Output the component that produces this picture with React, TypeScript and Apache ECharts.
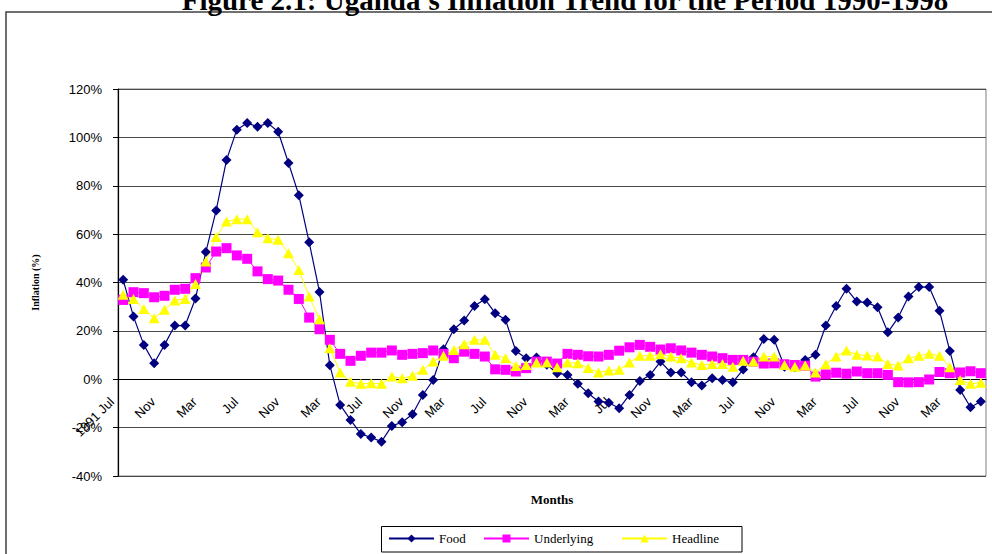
import React, { useEffect, useRef } from "react";
import * as echarts from "echarts";

const categories = [
  "1991 Jul", "Aug", "Sep", "Oct", "Nov", "Dec",
  "Jan", "Feb", "Mar", "Apr", "May", "Jun", "Jul", "Aug", "Sep", "Oct", "Nov", "Dec",
  "Jan", "Feb", "Mar", "Apr", "May", "Jun", "Jul", "Aug", "Sep", "Oct", "Nov", "Dec",
  "Jan", "Feb", "Mar", "Apr", "May", "Jun", "Jul", "Aug", "Sep", "Oct", "Nov", "Dec",
  "Jan", "Feb", "Mar", "Apr", "May", "Jun", "Jul", "Aug", "Sep", "Oct", "Nov", "Dec",
  "Jan", "Feb", "Mar", "Apr", "May", "Jun", "Jul", "Aug", "Sep", "Oct", "Nov", "Dec",
  "Jan", "Feb", "Mar", "Apr", "May", "Jun", "Jul", "Aug", "Sep", "Oct", "Nov", "Dec",
  "Jan", "Feb", "Mar", "Apr", "May", "Jun",
];

const food = [
  41.1, 25.9, 14.2, 6.6, 14.2, 22.2, 22.2, 33.4, 52.6, 69.8,
  90.6, 103.2, 105.9, 104.4, 105.9, 102.3, 89.4, 76.1, 56.6, 36.1,
  5.8, -10.6, -16.8, -22.6, -24.1, -25.8, -19.3, -17.8, -14.5, -6.5,
  -0.3, 12.4, 20.7, 24.3, 30.3, 33.1, 27.3, 24.6, 11.7, 8.7,
  9.0, 6.0, 2.5, 1.8, -1.9, -5.8, -9.2, -9.7, -12.0, -6.5,
  -0.7, 1.8, 7.3, 2.8, 2.8, -1.2, -2.6, 0.4, -0.3, -1.2,
  4.0, 9.1, 16.6, 16.3, 5.2, 5.0, 8.0, 10.1, 22.2, 30.3,
  37.4, 32.1, 31.7, 29.8, 19.4, 25.5, 34.2, 38.1, 38.1, 28.3,
  11.7, -4.4, -11.6, -9.2,
];

const underlying = [
  32.8, 36.0, 35.6, 33.9, 34.5, 37.0, 37.4, 41.8, 46.2, 52.8,
  54.2, 51.2, 49.8, 44.6, 41.4, 40.8, 37.0, 33.2, 25.5, 20.7,
  16.3, 10.5, 7.6, 9.7, 11.0, 11.0, 11.9, 10.1, 10.5, 10.8,
  11.9, 10.5, 8.7, 11.4, 10.5, 9.4, 4.1, 3.9, 3.2, 4.6,
  7.3, 7.3, 6.5, 10.5, 10.1, 9.5, 9.4, 10.1, 11.8, 13.2,
  14.2, 13.4, 12.3, 12.8, 11.9, 11.0, 10.1, 9.4, 8.7, 8.0,
  8.0, 7.3, 6.5, 6.6, 6.2, 5.9, 5.6, 1.1, 2.0, 2.7,
  2.3, 3.2, 2.5, 2.5, 1.8, -1.2, -1.3, -1.2, -0.1, 3.0,
  2.5, 2.8, 3.3, 2.5,
];

const headline = [
  34.9, 33.2, 29.0, 25.2, 28.7, 32.6, 33.2, 39.4, 48.7, 58.8,
  65.2, 66.2, 66.2, 60.8, 58.3, 57.7, 52.1, 45.2, 34.2, 24.8,
  12.8, 2.8, -1.0, -1.9, -1.7, -1.9, 1.1, 0.4, 1.4, 3.9,
  7.3, 9.7, 12.1, 14.5, 16.3, 16.3, 10.1, 8.7, 5.5, 5.9,
  6.9, 6.9, 5.0, 6.9, 6.6, 4.6, 2.8, 3.6, 3.9, 6.9,
  9.7, 9.7, 10.3, 9.4, 8.7, 6.9, 5.9, 6.3, 6.3, 5.2,
  7.7, 7.3, 9.4, 9.4, 5.9, 5.2, 5.7, 2.8, 6.2, 9.4,
  11.9, 10.1, 9.8, 9.4, 6.3, 5.7, 8.7, 9.7, 10.5, 9.7,
  5.0, -0.3, -1.9, -1.4,
];

const seriesNames = ["Food", "Underlying", "Headline"];
const titleText = "Figure 2.1: Uganda's Inflation Trend for the Period 1990-1998";

export default function App() {
  const ref = useRef<HTMLDivElement>(null);
  useEffect(() => {
    if (!ref.current) return;
    const chart = echarts.init(ref.current, undefined, { renderer: "svg" });
    const legendCommon = {
      top: 532,
      itemWidth: 45,
      itemHeight: 10,
      padding: 0,
      itemGap: 0,
      textStyle: { fontFamily: "Liberation Serif", fontSize: 13, color: "#000" },
    };
    chart.setOption({
      animation: false,
      backgroundColor: "#fff",
      textStyle: { fontFamily: "Liberation Sans" },
      grid: {
        left: 118,
        right: 6,
        top: 89,
        bottom: 78,
        show: true,
        borderColor: "#808080",
        borderWidth: 1,
        containLabel: false,
      },
      legend: [
        { ...legendCommon, left: 388, data: [seriesNames[0]] },
        { ...legendCommon, left: 483, data: [seriesNames[1]] },
        { ...legendCommon, left: 621, data: [seriesNames[2]] },
      ],
      xAxis: {
        type: "category",
        data: categories,
        boundaryGap: true,
        offset: -96.75,
        axisLine: { onZero: false, lineStyle: { color: "#000", width: 1.2 } },
        axisTick: { interval: 0, length: 4, lineStyle: { color: "#000" } },
        axisLabel: {
          interval: 3,
          rotate: 45,
          margin: 9,
          padding: [0, 16, 0, 0],
          fontFamily: "Liberation Sans",
          fontSize: 13,
          color: "#000",
        },
        splitLine: { show: false },
      },
      yAxis: {
        type: "value",
        min: -40,
        max: 120,
        interval: 20,
        name: "Inflation (%)",
        nameLocation: "middle",
        nameRotate: 90,
        nameGap: 78,
        nameTextStyle: { fontFamily: "Liberation Serif", fontWeight: "bold", fontSize: 10, color: "#000" },
        axisLine: { show: true, lineStyle: { color: "#000", width: 1.2 } },
        axisTick: { show: true, length: 5, lineStyle: { color: "#000" } },
        axisLabel: {
          formatter: "{value}%",
          margin: 16,
          fontFamily: "Liberation Sans",
          fontSize: 13,
          color: "#000",
        },
        splitLine: { show: true, lineStyle: { color: "#4a4a4a", width: 1 } },
      },
      graphic: [
        {
          type: "rect",
          z: -10,
          shape: { x: 6, y: 12, width: 1100, height: 700 },
          style: { fill: "none", stroke: "#404040", lineWidth: 1.5 },
        },
        {
          type: "text",
          x: 565,
          y: 14,
          style: {
            text: titleText,
            fontFamily: "Liberation Serif",
            fontWeight: "bold",
            fontSize: 29,
            fill: "#000",
            align: "center",
            verticalAlign: "bottom",
          },
        },
        {
          type: "text",
          x: 552,
          y: 499,
          style: {
            text: "Months",
            fontFamily: "Liberation Serif",
            fontWeight: "bold",
            fontSize: 13,
            fill: "#000",
            align: "center",
            verticalAlign: "middle",
          },
        },
        {
          type: "rect",
          shape: { x: 381.5, y: 526.5, width: 360.5, height: 25.5 },
          style: { fill: "none", stroke: "#000", lineWidth: 1 },
        },
      ],
      series: [
        {
          name: seriesNames[0],
          type: "line",
          data: food,
          symbol: "diamond",
          symbolSize: 10,
          showAllSymbol: true,
          lineStyle: { color: "#000080", width: 1.2 },
          itemStyle: { color: "#000080" },
        },
        {
          name: seriesNames[1],
          type: "line",
          data: underlying,
          symbol: "rect",
          symbolSize: 10,
          showAllSymbol: true,
          lineStyle: { color: "#FF00FF", width: 1 },
          itemStyle: { color: "#FF00FF" },
        },
        {
          name: seriesNames[2],
          type: "line",
          data: headline,
          symbol: "triangle",
          symbolSize: [11, 10],
          showAllSymbol: true,
          lineStyle: { color: "#FFFF00", width: 1 },
          itemStyle: { color: "#FFFF00" },
        },
      ],
    });
    return () => chart.dispose();
  }, []);
  return (
    <div
      ref={ref}
      style={{ position: "fixed", left: 0, top: 0, width: 992, height: 554 }}
    />
  );
}
